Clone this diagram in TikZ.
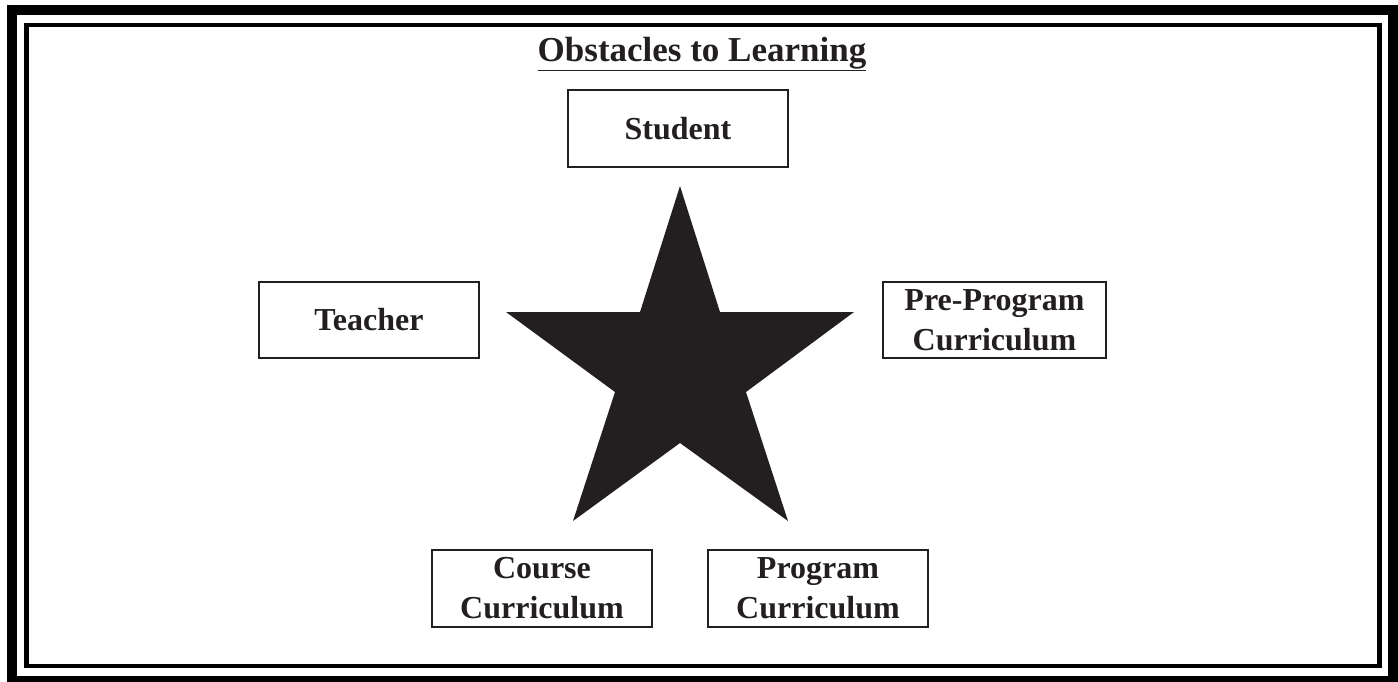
\documentclass[tikz,border=0pt]{standalone}
\usepackage{fontspec}
\setmainfont{Liberation Serif}
\definecolor{ink}{HTML}{231F20}
\begin{document}
\begin{tikzpicture}[x=1pt,y=-1pt,
  box/.style={draw=ink,line width=1.6pt,minimum width=220pt,minimum height=77pt,inner sep=0pt,
    align=center,text=ink,font=\fontsize{32}{40}\selectfont\bfseries}]
\useasboundingbox (0,0) rectangle (1398,681);
\draw[line width=10pt] (12,10) rectangle (1393,681);
\draw[line width=4.5pt] (26.5,25) rectangle (1379.5,666);
\node[text=ink,font=\fontsize{35}{40}\selectfont\bfseries,anchor=base] (title) at (702,61) {\underline{Obstacles to Learning}};
\node[box] (student) at (678,128.5) {Student};
\node[box,minimum height=76pt] (teacher) at (369,320) {Teacher};
\node[box,minimum width=223pt,minimum height=76pt] (pre) at (994.5,320) {Pre-Program\\Curriculum};
\node[box] (course) at (542,588.5) {Course\\Curriculum};
\node[box] (program) at (818,588.5) {Program\\Curriculum};
\fill[ink] (680,186) -- (720,312) -- (854,312) -- (746,392) -- (788,521) -- (680,443)
  -- (573,521) -- (615,392) -- (506,312) -- (640,312) -- cycle;
\end{tikzpicture}
\end{document}
